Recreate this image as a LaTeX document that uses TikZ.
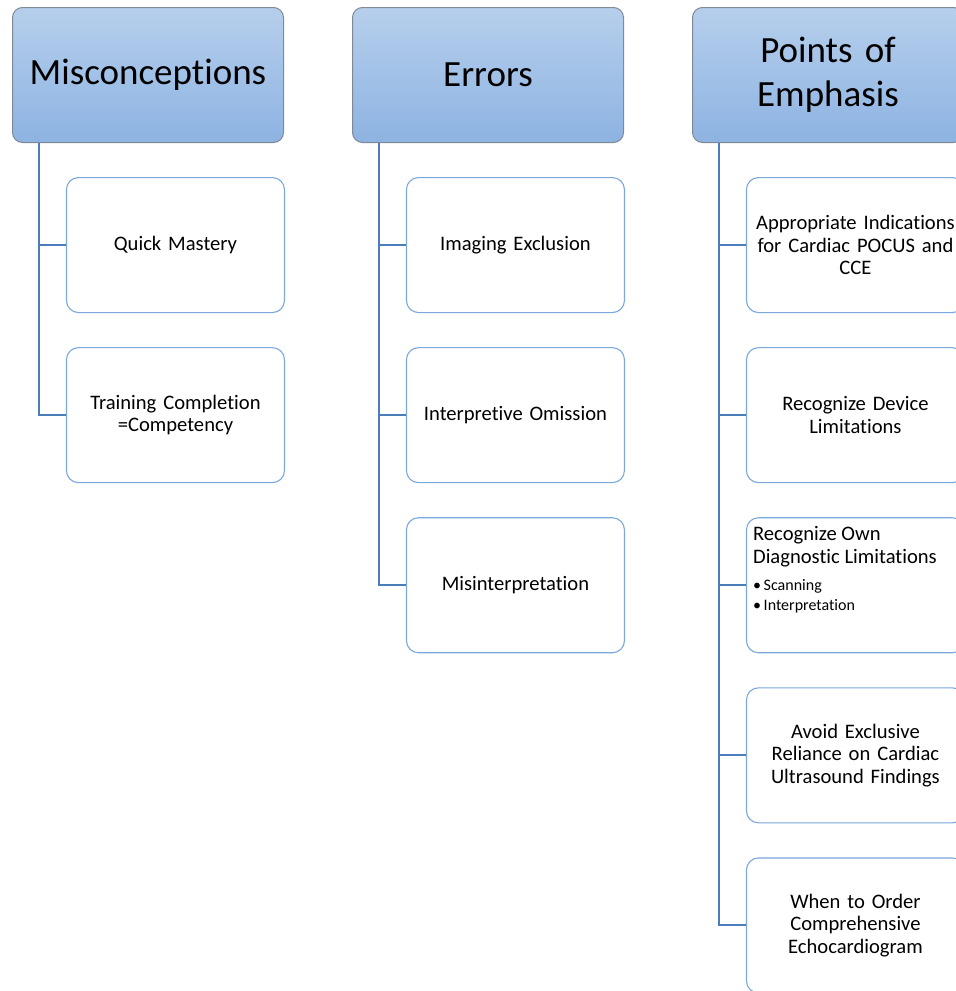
\documentclass[tikz,border=0pt]{standalone}
\usepackage{fontspec}
\setmainfont{Carlito}[Ligatures=NoCommon]
\usetikzlibrary{shapes,positioning}

\definecolor{headtop}{HTML}{B6CFEC}
\definecolor{headbot}{HTML}{8DB3E2}
\definecolor{headline}{HTML}{7F8A96}
\definecolor{childline}{HTML}{7BA8DD}
\definecolor{linkblue}{HTML}{4A7EBB}

\begin{document}
\begin{tikzpicture}[x=1pt, y=1pt, node distance=34pt]
    \tikzstyle{head} = [rectangle, draw=headline, line width=1pt, top color=headtop, bottom color=headbot, rounded corners=10pt, minimum width=271pt, minimum height=135pt, text width=262pt, align=center, font=\fontsize{37}{44}\selectfont]
    \tikzstyle{child} = [rectangle, draw=childline, line width=1.1pt, fill=white, rounded corners=12pt, minimum width=218pt, minimum height=135pt, text width=214pt, inner sep=2pt, align=center, font=\fontsize{20.6}{22.5}\selectfont]
    \tikzstyle{link} = [draw=linkblue, line width=2pt]

    \clip (0,0) rectangle (956,-991);

    % column headers
    \node [head, anchor=north west] (mis) at (12,-7) {Misconceptions};
    \node [head, right=68pt of mis] (err) {Errors};
    \node [head, right=68pt of err] (poe) {Points of\\Emphasis};

    % misconceptions
    \node [child, below=34pt of mis.south east, anchor=north east, xshift=1pt] (quick) {Quick Mastery};
    \node [child, below=of quick] (train) {Training Completion\\=Competency};

    % errors
    \node [child, below=34pt of err.south east, anchor=north east, xshift=1pt] (excl) {Imaging Exclusion};
    \node [child, below=of excl] (omis) {Interpretive Omission};
    \node [child, below=of omis] (misint) {Misinterpretation};

    % points of emphasis
    \node [child, below=34pt of poe.south east, anchor=north east, xshift=1pt] (indic) {Appropriate Indications\\for Cardiac POCUS and\\CCE};
    \node [child, below=of indic] (device) {Recognize Device\\Limitations};
    \node [child, below=of device, label={[anchor=north west, align=left, inner sep=0pt, xshift=7pt, yshift=-9pt, font=\fontsize{20.6}{22.5}\selectfont]north west:Recognize Own\\Diagnostic Limitations\\[5pt]{\fontsize{16}{20}\selectfont\textbullet\,Scanning}\\[-3pt]{\fontsize{16}{20}\selectfont\textbullet\,Interpretation}}] (own) {};
    \node [child, below=of own] (avoid) {Avoid Exclusive\\Reliance on Cardiac\\Ultrasound Findings};
    \node [child, below=of avoid] (order) {When to Order\\Comprehensive\\Echocardiogram};

    % connectors
    \draw [link] ([xshift=27pt]mis.south west) |- (quick.west);
    \draw [link] ([xshift=27pt]mis.south west) |- (train.west);
    \draw [link] ([xshift=27pt]err.south west) |- (excl.west);
    \draw [link] ([xshift=27pt]err.south west) |- (omis.west);
    \draw [link] ([xshift=27pt]err.south west) |- (misint.west);
    \draw [link] ([xshift=27pt]poe.south west) |- (indic.west);
    \draw [link] ([xshift=27pt]poe.south west) |- (device.west);
    \draw [link] ([xshift=27pt]poe.south west) |- (own.west);
    \draw [link] ([xshift=27pt]poe.south west) |- (avoid.west);
    \draw [link] ([xshift=27pt]poe.south west) |- (order.west);
\end{tikzpicture}
\end{document}
